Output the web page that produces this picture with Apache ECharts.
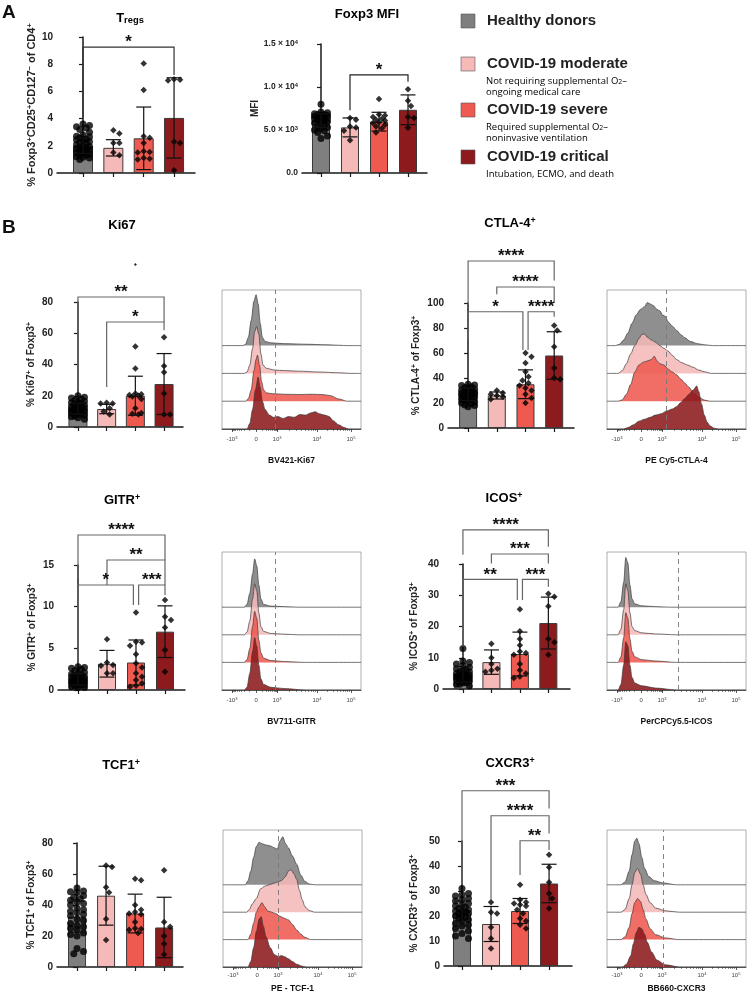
<!DOCTYPE html>
<html><head><meta charset="utf-8">
<script src="https://cdn.jsdelivr.net/npm/echarts@6/dist/echarts.min.js"></script>
<style>html,body{margin:0;padding:0;background:#fff}#c{width:750px;height:994px}</style>
</head><body><div id="c"></div><script>
// ---------------- DATA ----------------
const groups = ['Healthy donors', 'COVID-19 moderate', 'COVID-19 severe', 'COVID-19 critical'];
const groupNotes = [[], ['Not requiring supplemental O_2_–', 'ongoing medical care'], ['Required supplemental O_2_–', 'noninvasive ventilation'], ['Intubation, ECMO, and death']];
const groupColors = ['#7f7f7f', '#f5b9b8', '#ee5a50', '#8d1a1c'];

// Tregs %
const tregMean = [2.0, 1.85, 2.55, 4.05];
const tregSD = [0.55, 0.6, 2.3, 2.95];
const tregHD = [3.6,3.5,3.4,3.3,3.2,3.0,2.8,2.7,2.65,2.6,2.5,2.45,2.4,2.3,2.25,2.2,2.1,2.0,1.95,1.9,1.85,1.8,1.75,1.7,1.6,1.55,1.5,1.45,1.4,1.35,1.3,1.2,1.15,1.1,1.0];
const tregMod = [3.15,2.9,2.2,2.2,1.5,1.3];
const tregSev = [8.05,6.1,2.7,2.6,2.2,1.6,1.55,1.5,1.1,1.05,1.0];
const tregCrit = [6.9,6.85,6.8,2.3,2.2,0.2];
// Foxp3 MFI
const mfiMean = [6100, 5300, 5970, 7350];
const mfiSD = [800, 1100, 1090, 1730];
const mfiHD = [8000,7100,7000,6900,6800,6800,6700,6700,6600,6600,6500,6500,6400,6400,6300,6300,6200,6100,6000,5900,5800,5600,5400,5300,5200,5000,4900,4700,4300,4000];
const mfiMod = [6400,6200,5400,5300,4900,3800];
const mfiSev = [8600,6800,6700,6500,6300,6200,6100,5900,5800,5600,5400,5200,4700];
const mfiCrit = [9750,8400,7800,6500,6400,5250];
const mfiTickVals = [0, 5000, 10000, 15000];
const mfiTickText = ['0.0', '5.0 × 10^3^', '1.0 × 10^4^', '1.5 × 10^4^'];
// Ki67
const kiMean = [11.8, 11.5, 20, 27.5];
const kiSD = [3.5, 3, 12.5, 19.5];
const kiHD = [20,19,18.5,18,17,16.5,16,15.5,15,14.5,14,13.5,13,13,12.5,12,12,11.5,11,11,10.5,10,10,9.5,9,8.5,8,7.5,7,6.5,6,5];
const kiMod = [15.5,15,15,12,10,8];
const kiSev = [104,51.5,37.5,21.5,21,20.5,20,19.5,18,12,9,8.5,8];
const kiCrit = [57.5,39,35,21.5,8,8];
// CTLA-4
const ctMean = [27, 26, 35, 58];
const ctSD = [5, 2.8, 11.5, 19];
const ctHD = [35,34.5,34,33,32.5,32,31,30.5,30,29.5,29,28.5,28,28,27.5,27,27,26.5,26,25.5,25,24.5,24,23,22.5,22,21,20,19.5,18.5,18,17];
const ctMod = [30,28,27,26,25,23];
const ctSev = [60,57,52,45,41,38,36,34,32,30,27,24,20];
const ctCrit = [82,78,65,48,40,39];
// GITR
const giMean = [1.3, 3.15, 3.3, 7.0];
const giSD = [0.7, 1.6, 2.7, 3.1];
const giHD = [2.8,2.7,2.6,2.5,2.3,2.1,2.0,1.9,1.8,1.7,1.6,1.5,1.5,1.4,1.3,1.3,1.2,1.1,1.1,1.0,1.0,0.9,0.9,0.8,0.8,0.7,0.6,0.6,0.5,0.4,0.3,0.3];
const giMod = [6.1,3.3,3.0,2.9,2.0,2.0];
const giSev = [9.3,5.8,5.7,5.3,4.3,3.2,2.7,2.0,1.6,1.2,0.8,0.5,0.4];
const giCrit = [10.8,8.8,8.4,7.5,4.8,2.2];
// ICOS
const icMean = [4.7, 8.6, 11.2, 21.1];
const icSD = [2.5, 3.9, 7, 8.3];
const icHD = [13,9,8.5,8,7.5,7,6.5,6,6,5.5,5.5,5,5,4.5,4.5,4.5,4,4,4,3.5,3.5,3.5,3,3,3,2.5,2.5,2,2,1.5,1.5,1];
const icMod = [14.5,10,8,6.5,6,5.5];
const icSev = [25.5,18.5,16,14,12,11.5,11,8,6,5,4,3.5];
const icCrit = [30.5,29.5,26.5,16,15,11];
// TCF1
const tcMean = [32.5, 46, 34.5, 25.5];
const tcSD = [10, 19, 12.5, 19.5];
const tcHD = [51,49,48.5,48,46,45,44,43,42,41,40,38,37,36,35,34,33,31,30,28,27,26,25,24,22,21,20,12,10,8.5];
const tcMod = [65.5,64.5,51.5,48,31,17.5];
const tcSev = [57,56,40,37,35.5,34.5,34,29,25,24.5,24,22];
const tcCrit = [62.5,29,26,20,15,8];
// CXCR3
const cxMean = [21, 16.8, 22, 33];
const cxSD = [5, 7, 5, 7.7];
const cxHD = [31,29,28.5,28,27,26.5,26,25,24.5,24,23.5,23,22.5,22,22,21.5,21,21,20.5,20,19.5,19,18.5,18,17,16.5,16,15,14,13,12,11];
const cxMod = [25.5,21.5,21,15.5,11,7];
const cxSev = [32.5,26.5,25.5,25,24.5,24,22.5,21,19,18,16.5,15];
const cxCrit = [44.5,39.5,33.5,29,27,23];

// significance brackets: [groupA, groupB, level, leftLegEnd, rightLegEnd, label]
const tregBr = [[0,3,9.26,4.1,7.2,'*']];
const mfiBr = [[1,3,11400,7300,10600,'*']];
const kiBr = [[0,3,83.2,23.7,67.2,'**'],[1,3,67.2,25.6,62,'*']];
const ctBr = [[0,3,133.6,98.4,118,'****'],[1,3,112.8,107,100,'****'],[0,2,93,70,62.4,'*'],[2,3,93,62.4,89,'****']];
const giBr = [[0,3,18.6,13.4,15.6,'****'],[1,3,15.6,12.6,12.6,'**'],[0,2,12.6,3.5,10.2,'*'],[2,3,12.6,10.2,11.4,'***']];
const icBr = [[0,3,50.9,43,45.5,'****'],[1,3,43.2,40.2,40.2,'***'],[0,2,35.1,13.5,28.5,'**'],[2,3,35.1,28.5,32.7,'***']];
const cxBr = [[0,3,70.1,33,63,'***'],[1,3,60.1,26.4,53,'****'],[2,3,50.1,36.4,46.4,'**']];

const barTitles = ['T_regs_', 'Foxp3 MFI', 'Ki67', 'CTLA-4^+^', 'GITR^+^', 'ICOS^+^', 'TCF1^+^', 'CXCR3^+^'];
const yNames = ['% Foxp3^+^CD25^+^CD127^−^ of CD4^+^', 'MFI', '% Ki67^+^ of Foxp3^+^', '% CTLA-4^+^ of Foxp3^+^', '% GITR^+^ of Foxp3^+^', '% ICOS^+^ of Foxp3^+^', '% TCF1^+^ of Foxp3^+^', '% CXCR3^+^ of Foxp3^+^'];

// Flow histograms: [channel (0-100 display scale), relative height]
const histTickPos = [7.2, 24.5, 39.6, 68.3, 92.8];
const histTickBase = ['-10', '0', '10', '10', '10'];
const histTickExp = ['3', '', '3', '4', '5'];
const histNames = ['BV421-Ki67', 'PE Cy5-CTLA-4', 'BV711-GITR', 'PerCPCy5.5-ICOS', 'PE - TCF-1', 'BB660-CXCR3'];
const histGates = [38, 42.7, 38.5, 51, 39.6, 40.5];

const kiH0 = [[0,0],[15,0],[17,0.05],[19,0.3],[21,0.9],[23,1.6],[24.5,1.83],[26,1.5],[27.5,0.8],[29,0.3],[31,0.15],[35,0.1],[45,0.07],[60,0.05],[75,0.03],[85,0.01],[90,0],[100,0]];
const kiH1 = [[0,0],[16,0],[18,0.05],[20,0.3],[22,0.9],[23.5,1.5],[25,1.69],[26.5,1.4],[28,0.7],[29.5,0.3],[32,0.18],[38,0.12],[45,0.1],[55,0.08],[70,0.05],[85,0.02],[92,0],[100,0]];
const kiH2 = [[0,0],[17,0],[19,0.1],[21,0.4],[23,1.1],[24.5,1.5],[25.5,1.66],[27,1.3],[28.5,0.7],[30,0.4],[32,0.3],[36,0.27],[45,0.25],[55,0.24],[65,0.25],[72,0.24],[78,0.2],[84,0.08],[90,0],[100,0]];
const kiH3 = [[0,0],[18,0],[20,0.2],[22,0.7],[24,1.4],[26,1.87],[27.5,1.5],[29,1.0],[31,0.7],[34,0.5],[37,0.42],[40,0.45],[44,0.38],[48,0.45],[52,0.42],[56,0.52],[60,0.5],[64,0.58],[67,0.62],[70,0.55],[74,0.5],[77,0.45],[80,0.3],[84,0.15],[88,0.05],[91,0],[100,0]];

const ctH0 = [[0,0],[6,0],[9,0.05],[12,0.2],[15,0.45],[18,0.8],[21,1.1],[24,1.3],[27,1.4],[29,1.55],[31,1.5],[33,1.45],[36,1.3],[38,1.25],[40,1.1],[42,1.05],[44,0.85],[47,0.7],[50,0.55],[53,0.4],[56,0.28],[60,0.15],[65,0.07],[70,0.03],[76,0],[100,0]];
const ctH1 = [[0,0],[8,0],[11,0.1],[14,0.35],[17,0.7],[20,1.0],[23,1.25],[25,1.4],[27,1.42],[29,1.3],[32,1.2],[35,1.12],[38,1.0],[41,0.9],[44,0.8],[47,0.65],[50,0.5],[54,0.38],[58,0.3],[62,0.22],[66,0.12],[70,0.06],[75,0],[100,0]];
const ctH2 = [[0,0],[8,0],[11,0.05],[14,0.25],[17,0.6],[20,1.05],[23,1.3],[26,1.4],[29,1.45],[32,1.5],[34,1.62],[36,1.45],[38,1.35],[41,1.3],[44,1.15],[47,1.05],[50,0.95],[53,0.8],[56,0.65],[59,0.5],[62,0.3],[66,0.15],[70,0.04],[74,0],[100,0]];
const ctH3 = [[0,0],[12,0],[15,0.05],[19,0.15],[23,0.28],[27,0.35],[31,0.42],[35,0.5],[39,0.55],[43,0.65],[47,0.72],[50,0.8],[53,0.95],[56,1.1],[59,1.25],[62,1.4],[64.5,1.55],[66,1.35],[68,0.9],[70,0.5],[72,0.25],[74,0.12],[77,0.03],[80,0],[100,0]];

const giH0 = [[0,0],[16,0],[18,0.1],[20,0.5],[22,1.2],[23.5,1.75],[25,1.5],[26.5,0.8],[28,0.3],[30,0.1],[35,0.04],[45,0.02],[55,0],[100,0]];
const giH1 = [[0,0],[16,0],[18,0.1],[20,0.5],[22,1.3],[23.5,1.85],[25,1.6],[26.5,0.8],[28,0.3],[30,0.12],[35,0.05],[45,0.02],[55,0],[100,0]];
const giH2 = [[0,0],[16,0],[18,0.1],[20,0.5],[22,1.3],[23.5,1.85],[25,1.6],[26.5,0.8],[28,0.35],[30,0.15],[35,0.07],[45,0.03],[60,0],[100,0]];
const giH3 = [[0,0],[16,0],[18,0.1],[20,0.6],[22,1.4],[23.5,1.9],[25,1.6],[26.5,0.9],[28,0.4],[30,0.2],[35,0.1],[45,0.05],[60,0],[100,0]];

const icH0 = [[0,0],[8,0],[10,0.2],[12,0.9],[13.5,1.8],[15,1.6],[16.5,0.8],[18,0.3],[20,0.12],[25,0.05],[35,0.02],[45,0],[100,0]];
const icH1 = [[0,0],[8,0],[10,0.2],[12,0.9],[13.5,1.85],[15,1.6],[16.5,0.8],[18,0.3],[20,0.15],[25,0.07],[35,0.03],[50,0],[100,0]];
const icH2 = [[0,0],[8,0],[10,0.2],[12,0.9],[13.5,1.8],[15,1.6],[16.5,0.85],[18,0.4],[20,0.2],[25,0.1],[35,0.05],[50,0],[100,0]];
const icH3 = [[0,0],[8,0],[10,0.2],[12,0.9],[13.5,1.75],[15,1.6],[16.5,0.9],[18,0.45],[20,0.25],[25,0.15],[35,0.07],[50,0],[100,0]];

const tcH0 = [[0,0],[16,0],[18,0.15],[20,0.5],[22,1.0],[24,1.4],[26,1.55],[28,1.5],[31,1.45],[34,1.42],[37,1.35],[39,1.3],[41,1.6],[43,1.75],[45,1.5],[47,1.35],[50,1.05],[53,0.75],[56,0.35],[59,0.12],[62,0.03],[66,0],[100,0]];
const tcH1 = [[0,0],[17,0],[19,0.1],[21,0.3],[24,0.5],[27,0.85],[30,0.95],[33,1.0],[36,1.05],[39,1.1],[42,1.15],[45,1.3],[47,1.5],[49,1.55],[51,1.4],[53,1.2],[55,0.8],[57,0.45],[59,0.2],[62,0.06],[66,0],[100,0]];
const tcH2 = [[0,0],[18,0],[20,0.2],[22,0.6],[24,1.0],[26,1.2],[28,1.35],[30,1.2],[32,1.05],[35,1.0],[38,0.95],[41,0.85],[44,0.78],[47,0.72],[50,0.55],[53,0.35],[56,0.2],[59,0.08],[63,0],[100,0]];
const tcH3 = [[0,0],[18,0],[20,0.2],[22,0.7],[24,1.3],[26,1.75],[27.5,1.84],[29,1.5],[31,1.1],[34,0.7],[37,0.45],[40,0.38],[42,0.42],[44,0.38],[47,0.3],[50,0.2],[53,0.1],[57,0.03],[60,0],[100,0]];

const cxH0 = [[0,0],[10,0],[13,0.1],[16,0.5],[18,1.1],[20,1.6],[21.5,1.7],[23,1.5],[25,1.0],[27,0.6],[30,0.3],[34,0.15],[40,0.07],[50,0],[100,0]];
const cxH1 = [[0,0],[10,0],[13,0.1],[16,0.5],[18,1.0],[20,1.45],[22,1.6],[24,1.4],[26,1.0],[28,0.65],[31,0.35],[35,0.15],[42,0.05],[52,0],[100,0]];
const cxH2 = [[0,0],[10,0],[13,0.1],[16,0.45],[18,0.95],[20,1.35],[22,1.5],[24,1.4],[26,1.1],[28,0.75],[31,0.4],[35,0.18],[42,0.06],[52,0],[100,0]];
const cxH3 = [[0,0],[11,0],[14,0.1],[17,0.4],[19,0.85],[21,1.25],[23,1.45],[25,1.4],[27,1.2],[29,0.9],[32,0.55],[36,0.25],[42,0.08],[52,0],[100,0]];

// ---------------- LAYOUT / STYLE ----------------
const FONT = '"Liberation Sans", Arial, Helvetica, sans-serif';
const NOTE_FONT = '"Open Sans", "Noto Sans", sans-serif';

function rt(s) {
  let out = '', mode = 'n', buf = '';
  const flush = () => { if (buf) out += '{' + mode + '|' + buf + '}'; buf = ''; };
  for (const ch of s) {
    if (ch === '^') { flush(); mode = mode === 's' ? 'n' : 's'; }
    else if (ch === '_') { flush(); mode = mode === 'u' ? 'n' : 'u'; }
    else buf += ch;
  }
  flush();
  return out;
}
function richFor(size, weight, family, color) {
  return {
    n: { fontSize: size, fontWeight: weight, fontFamily: family, color: color, verticalAlign: 'middle' },
    s: { fontSize: size * 0.68, fontWeight: weight, fontFamily: family, color: color, lineHeight: size * 0.4, verticalAlign: 'top' },
    u: { fontSize: size * 0.72, fontWeight: weight, fontFamily: family, color: color, lineHeight: size * 0.3, verticalAlign: 'bottom' }
  };
}

const barCharts = [
  { box: [57, 37, 138, 136], xr: [-0.857, 3.69], yMax: 10, yStep: 2, means: tregMean, sds: tregSD, pts: [tregHD, tregMod, tregSev, tregCrit], br: tregBr, brColor: '#333', nameGap: 20, nameSize: 11, title: [130, 18], barW: 20 },
  { box: [302, 44, 125, 129], xr: [-0.655, 3.655], yMax: 15000, yStep: 5000, means: mfiMean, sds: mfiSD, pts: [mfiHD, mfiMod, mfiSev, mfiCrit], br: mfiBr, brColor: '#222', nameGap: 40, nameSize: 10, title: [367, 14], barW: 18, mfi: true },
  { box: [57, 302, 126, 125], xr: [-0.73, 3.66], yMax: 80, yStep: 20, means: kiMean, sds: kiSD, pts: [kiHD, kiMod, kiSev, kiCrit], br: kiBr, brColor: '#666', nameGap: 21, nameSize: 10, title: [122, 225], barW: 19 },
  { box: [448, 303, 126, 125], xr: [-0.70, 3.69], yMax: 100, yStep: 20, means: ctMean, sds: ctSD, pts: [ctHD, ctMod, ctSev, ctCrit], br: ctBr, brColor: '#666', nameGap: 27, nameSize: 10, title: [510, 223], barW: 18 },
  { box: [58, 565, 127, 125], xr: [-0.69, 3.69], yMax: 15, yStep: 5, means: giMean, sds: giSD, pts: [giHD, giMod, giSev, giCrit], br: giBr, brColor: '#666', nameGap: 21, nameSize: 10, title: [122, 500], barW: 18 },
  { box: [443, 564, 127, 125], xr: [-0.70, 3.76], yMax: 40, yStep: 10, means: icMean, sds: icSD, pts: [icHD, icMod, icSev, icCrit], br: icBr, brColor: '#666', nameGap: 24, nameSize: 10, title: [504, 498], barW: 18 },
  { box: [57, 843, 126, 124], xr: [-0.69, 3.65], yMax: 80, yStep: 20, means: tcMean, sds: tcSD, pts: [tcHD, tcMod, tcSev, tcCrit], br: [], brColor: '#666', nameGap: 21, nameSize: 10, title: [121, 765], barW: 18 },
  { box: [444, 841, 128, 125], xr: [-0.62, 3.79], yMax: 50, yStep: 10, means: cxMean, sds: cxSD, pts: [cxHD, cxMod, cxSev, cxCrit], br: cxBr, brColor: '#666', nameGap: 25, nameSize: 10, title: [510, 763], barW: 18 }
];
const histCharts = [
  { box: [222, 290, 139, 139], curves: [kiH0, kiH1, kiH2, kiH3], lblMargin: 7, nameGap: 27 },
  { box: [607, 290, 139, 139], curves: [ctH0, ctH1, ctH2, ctH3], lblMargin: 7, nameGap: 27 },
  { box: [222, 552, 139, 138], curves: [giH0, giH1, giH2, giH3], lblMargin: 7, nameGap: 27 },
  { box: [607, 552, 139, 138], curves: [icH0, icH1, icH2, icH3], lblMargin: 7, nameGap: 27 },
  { box: [223, 830, 139, 138], curves: [tcH0, tcH1, tcH2, tcH3], lblMargin: 5, nameGap: 17 },
  { box: [607, 830, 139, 138], curves: [cxH0, cxH1, cxH2, cxH3], lblMargin: 5, nameGap: 17 }
];

function swarm(vals, pxY, pxX, d, maxHalf) {
  const idx = vals.map((v, i) => i).sort((a, b) => vals[b] - vals[a]);
  const placed = [], out = new Array(vals.length).fill(0);
  idx.forEach(i => {
    const y = vals[i] * pxY;
    const cands = [0];
    for (let k = 1; k * d * 0.5 <= maxHalf + 0.01; k++) cands.push(k * d * 0.5, -k * d * 0.5);
    let best = 0, bestScore = -1;
    for (const cx of cands) {
      let m = Infinity;
      for (const p of placed) { const dd = Math.hypot(p[0] - cx, p[1] - y); if (dd < m) m = dd; }
      if (m >= d * 0.95) { best = cx; break; }
      if (m > bestScore) { bestScore = m; best = cx; }
    }
    placed.push([best, y]);
    out[i] = best / pxX;
  });
  return out;
}

const option = { animation: false, grid: [], xAxis: [], yAxis: [], series: [], graphic: [] };
const axisCol = '#1a1a1a';

barCharts.forEach((c, ci) => {
  const gi = option.grid.length;
  option.grid.push({ left: c.box[0], top: c.box[1], width: c.box[2], height: c.box[3] });
  const xi = option.xAxis.length;
  option.xAxis.push({ type: 'value', gridIndex: gi, min: c.xr[0], max: c.xr[1],
    axisLine: { show: true, onZero: false, lineStyle: { color: axisCol, width: 1.5 } },
    axisTick: { show: true, customValues: [0, 1, 2, 3], length: 4, lineStyle: { color: axisCol, width: 1.2 } },
    axisLabel: { show: false }, splitLine: { show: false } });
  const yi = option.yAxis.length;
  const tickSize = c.mfi ? 8.5 : 10;
  option.yAxis.push({ type: 'value', gridIndex: gi, min: 0, max: c.yMax, interval: c.yStep,
    axisLine: { show: true, lineStyle: { color: axisCol, width: 1.5 } },
    axisTick: { show: true, length: 4, lineStyle: { color: axisCol, width: 1.2 } },
    axisLabel: { margin: 4, fontFamily: FONT, fontWeight: 'bold', fontSize: tickSize, color: '#222',
      formatter: c.mfi ? (v => rt(mfiTickText[mfiTickVals.indexOf(v)] || '')) : (v => '{n|' + v + '}'),
      rich: richFor(tickSize, 'bold', FONT, '#222') },
    splitLine: { show: false },
    name: rt(yNames[ci]), nameLocation: 'middle', nameGap: c.nameGap, nameRotate: 90,
    nameTextStyle: { fontFamily: FONT, fontWeight: 'bold', fontSize: c.nameSize, color: '#222', rich: richFor(c.nameSize, 'bold', FONT, '#222') } });

  option.series.push({ type: 'bar', xAxisIndex: xi, yAxisIndex: yi, barWidth: c.barW, z: 2,
    data: c.means.map((m, g) => ({ value: [g, m], itemStyle: { color: groupColors[g], borderColor: '#3a3a3a', borderWidth: 1 } })) });
  const pxY = c.box[3] / c.yMax, pxX = c.box[2] / (c.xr[1] - c.xr[0]);
  c.pts.forEach((vals, g) => {
    const d = g === 0 ? 6.5 : 6;
    const off = swarm(vals, pxY, pxX, d, 8);
    const base = g === 0 ? 7 : 6.5;
    option.series.push({ type: 'scatter', xAxisIndex: xi, yAxisIndex: yi, z: 3, clip: false,
      symbol: g === 0 ? 'circle' : 'diamond',
      symbolSize: v => (v[1] > c.yMax ? 3 : base),
      itemStyle: { color: '#000' },
      data: vals.map((v, k) => [g + off[k], v]) });
  });
  option.series.push({ type: 'custom', xAxisIndex: xi, yAxisIndex: yi, z: 4,
    data: c.means.map((m, g) => [g, Math.max(0, m - c.sds[g]), m + c.sds[g]]),
    encode: { x: 0, y: [1, 2] },
    renderItem: (p, api) => {
      const x = api.value(0), a = api.coord([x, api.value(2)]), b = api.coord([x, api.value(1)]);
      const w = 7.5, st = { stroke: '#111', lineWidth: 1.2 };
      return { type: 'group', children: [
        { type: 'line', shape: { x1: a[0], y1: a[1], x2: b[0], y2: b[1] }, style: st },
        { type: 'line', shape: { x1: a[0] - w, y1: a[1], x2: a[0] + w, y2: a[1] }, style: st },
        { type: 'line', shape: { x1: b[0] - w, y1: b[1], x2: b[0] + w, y2: b[1] }, style: st } ] };
    } });
  if (c.br.length) {
    const br = c.br;
    option.series.push({ type: 'custom', xAxisIndex: xi, yAxisIndex: yi, z: 5,
      data: br.map(b => [b[0], b[1], b[2], b[3], b[4]]),
      encode: { x: [0, 1], y: [2] },
      renderItem: (p, api) => {
        const b = br[p.dataIndex];
        let x1 = b[0], x2 = b[1];
        br.forEach((o, j) => {
          if (j === p.dataIndex || o[2] !== b[2]) return;
          if (o[0] === b[1]) x2 -= 0.09;
          if (o[1] === b[0]) x1 += 0.09;
        });
        const p1 = api.coord([x1, b[3]]), p2 = api.coord([x1, b[2]]), p3 = api.coord([x2, b[2]]), p4 = api.coord([x2, b[4]]);
        return { type: 'group', children: [
          { type: 'polyline', shape: { points: [p1, p2, p3, p4] }, style: { stroke: c.brColor, lineWidth: 1.2, fill: null } },
          { type: 'text', x: (p2[0] + p3[0]) / 2, y: p2[1] + 4, style: { text: b[5], font: 'bold 17px ' + FONT, fill: '#111', align: 'center', verticalAlign: 'bottom' } } ] };
      } });
  }
  option.graphic.push({ type: 'text', x: c.title[0], y: c.title[1], style: { text: rt(barTitles[ci]), align: 'center', verticalAlign: 'middle', rich: richFor(13, 'bold', FONT, '#111') } });
});

const minorPos = [];
for (let k = 2; k <= 9; k++) {
  minorPos.push(histTickPos[2] + (histTickPos[3] - histTickPos[2]) * Math.log10(k));
  minorPos.push(histTickPos[3] + (histTickPos[4] - histTickPos[3]) * Math.log10(k));
}
for (let k = 1; k <= 9; k++) {
  minorPos.push(histTickPos[1] + (histTickPos[2] - histTickPos[1]) * Math.log10(1 + k));
  minorPos.push(histTickPos[1] - (histTickPos[1] - histTickPos[0]) * Math.log10(1 + k));
}
const minorClean = minorPos.filter(v => v > 0 && v < 100);

histCharts.forEach((h, hi) => {
  const gi = option.grid.length;
  option.grid.push({ left: h.box[0], top: h.box[1], width: h.box[2], height: h.box[3], show: true, borderColor: '#999', borderWidth: 0.8, backgroundColor: 'transparent' });
  const xi = option.xAxis.length;
  option.xAxis.push({ type: 'value', gridIndex: gi, min: 0, max: 100, position: 'bottom',
    axisLine: { show: true, onZero: false, lineStyle: { color: '#333', width: 0.8 } },
    axisTick: { show: true, customValues: histTickPos, length: 3, lineStyle: { color: '#333', width: 0.8 } },
    axisLabel: { show: true, customValues: histTickPos, margin: h.lblMargin,
      formatter: v => { const i = histTickPos.indexOf(v); return '{n|' + histTickBase[i] + '}' + (histTickExp[i] ? '{s|' + histTickExp[i] + '}' : ''); },
      rich: richFor(6, 'normal', FONT, '#444') },
    splitLine: { show: false },
    name: histNames[hi], nameLocation: 'middle', nameGap: h.nameGap,
    nameTextStyle: { fontFamily: FONT, fontWeight: 'bold', fontSize: 8.5, color: '#111' } });
  option.xAxis.push({ type: 'value', gridIndex: gi, min: 0, max: 100, position: 'bottom', offset: 0,
    axisLine: { show: false }, axisLabel: { show: false }, splitLine: { show: false },
    axisTick: { show: true, customValues: minorClean, length: 1.8, lineStyle: { color: '#333', width: 0.7 } } });
  const yi = option.yAxis.length;
  option.yAxis.push({ type: 'value', gridIndex: gi, min: 0, max: 5, show: false });
  h.curves.forEach((cv, k) => {
    const base = 3 - k;
    const s = { type: 'line', xAxisIndex: xi, yAxisIndex: yi, smooth: 0.3, smoothMonotone: 'x', showSymbol: false, z: 2 + k,
      data: cv.map(p => [p[0], base + p[1]]),
      lineStyle: { color: '#3a3a3a', width: 0.7 },
      areaStyle: { color: groupColors[k], opacity: 0.88, origin: base } };
    if (k === 3) s.markLine = { silent: true, symbol: 'none', label: { show: false }, z: 10,
      lineStyle: { type: [5, 4], color: '#777', width: 0.9 }, data: [{ xAxis: histGates[hi] }] };
    option.series.push(s);
  });
});

option.graphic.push({ type: 'text', x: 2, y: 3, style: { text: 'A', font: 'bold 19px ' + FONT, fill: '#111' } });
option.graphic.push({ type: 'text', x: 2, y: 218, style: { text: 'B', font: 'bold 19px ' + FONT, fill: '#111' } });

const legY = [21, 64, 110, 157];
groups.forEach((g, i) => {
  option.graphic.push({ type: 'rect', shape: { x: 461, y: legY[i] - 7, width: 14, height: 14 }, style: { fill: groupColors[i], stroke: '#555', lineWidth: 0.6 } });
  option.graphic.push({ type: 'text', x: 487, y: legY[i], style: { text: g, font: 'bold 15px ' + FONT, fill: '#222', verticalAlign: 'middle' } });
  groupNotes[i].forEach((t, j) => {
    option.graphic.push({ type: 'text', x: 486, y: legY[i] + 17 + j * 11.5, style: { text: rt(t), verticalAlign: 'middle', rich: richFor(9.5, 'normal', NOTE_FONT, '#222') } });
  });
});

const chart = echarts.init(document.getElementById('c'), null, { renderer: 'canvas', width: 750, height: 994 });
chart.setOption(option);
</script></body></html>
